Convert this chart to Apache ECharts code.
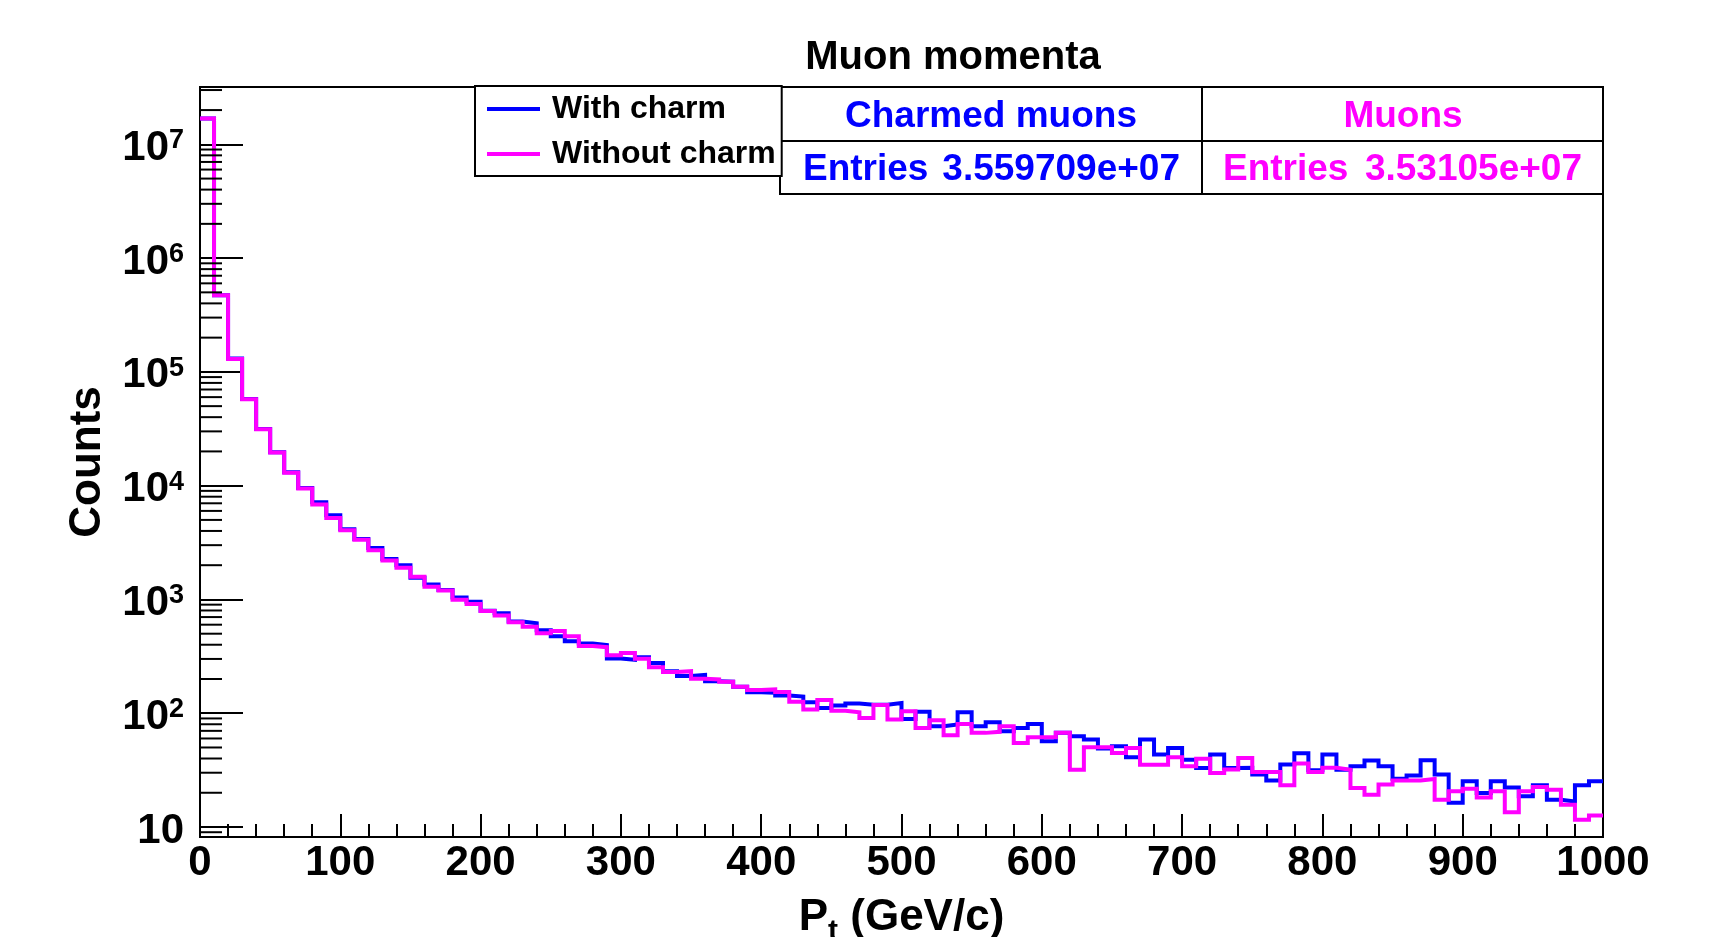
<!DOCTYPE html>
<html><head><meta charset="utf-8">
<script src="https://cdn.jsdelivr.net/npm/echarts@6/dist/echarts.min.js"></script>
<style>html,body{margin:0;padding:0;background:#fff}#c{width:1718px;height:937px}</style>
</head><body><div id="c"></div>
<script>
// ---- data (histogram, 100 bins of 10 GeV/c from 0 to 1000) ----
const binLow = 0;
const binWidth = 10;
const withCharm = [
  1.69e7, 4.72e5, 1.31e5, 5.78e4, 3.15e4, 1.97e4, 1.31e4, 9550, 7140, 5500,
  4150, 3390, 2830, 2270, 2000, 1550, 1350, 1210, 1040, 955,
  796, 757, 640, 618, 535, 476, 430, 410, 397, 303,
  295, 311, 276, 234, 212, 217, 191, 189, 171, 153,
  151, 143, 140, 125, 111, 117, 122, 119, 119, 123,
  89.1, 103, 76.9, 79.5, 102, 76.9, 83.4, 69.5, 74.3, 80.5,
  56.7, 67.2, 62.8, 58.7, 48.9, 51.3, 41.0, 58.7, 43.3, 49.5,
  39.1, 33.0, 43.3, 33.0, 33.1, 28.9, 25.6, 35.4, 44.5, 31.5,
  43.3, 31.9, 34.2, 38.4, 34.2, 26.6, 28.3, 38.6, 28.9, 16.3,
  25.2, 19.9, 25.2, 22.3, 18.6, 23.3, 17.4, 16.8, 23.3, 25.2
];
const withoutCharm = [
  1.69e7, 4.72e5, 1.30e5, 5.75e4, 3.13e4, 1.96e4, 1.30e4, 9450, 6840, 5200,
  4050, 3350, 2710, 2200, 1900, 1580, 1290, 1200, 996, 912,
  790, 724, 630, 575, 505, 527, 476, 389, 381, 324,
  338, 301, 254, 230, 234, 201, 198, 189, 171, 160,
  162, 154, 126, 108, 131, 105, 102, 91, 118, 87.9,
  104, 74.3, 86.8, 64.1, 80.5, 67.2, 68.6, 76.9, 54.8, 61.5,
  61.5, 67.2, 31.9, 50.2, 50.2, 44.8, 49.5, 35.3, 35.3, 41.0,
  34.2, 39.9, 29.9, 32.0, 40.5, 30.5, 30.5, 23.3, 36.1, 30.5,
  33.1, 31.9, 22.0, 19.2, 23.6, 25.6, 25.6, 26.4, 17.4, 20.6,
  21.7, 18.2, 20.6, 13.5, 20.6, 22.5, 21.3, 15.7, 11.6, 12.6
];
const seriesNames = ['With charm', 'Without charm'];
const seriesColors = ['#0000ff', '#ff00ff'];
const statTitles = ['Charmed muons', 'Muons'];
const statEntries = ['3.559709e+07', '3.53105e+07'];
const chartTitle = 'Muon momenta';
const xTitle = 'P{sub|t} (GeV/c)';
const yTitle = 'Counts';
const xRange = [0, 1000];
const xInterval = 100;
const yRange = [8.17, 3.19e7];

// ---- build ----
const FONT = '"Liberation Sans", Arial, Helvetica, sans-serif';
function toSteps(vals) {
  const pts = vals.map((v, i) => [binLow + i * binWidth, v]);
  pts.push([binLow + vals.length * binWidth, vals[vals.length - 1]]);
  return pts;
}
const minorY = [];
for (let e = 0; e <= 7; e++) {
  for (let m = 2; m <= 9; m++) {
    const v = m * Math.pow(10, e);
    if (v >= yRange[0] && v <= yRange[1]) minorY.push([0, v]);
  }
}
const chart = echarts.init(document.getElementById('c'), null, {renderer: 'canvas'});
const G = {left: 200, top: 87, width: 1403, height: 750};
const bold = (size, fill) => ({font: 'bold ' + size + 'px ' + FONT, fill: fill || '#000'});

const graphic = [
  {type: 'text', x: 953, y: 58, style: Object.assign({text: chartTitle, align: 'center', verticalAlign: 'middle'}, bold(40))},
  {type: 'rect', shape: {x: 780, y: 87, width: 422, height: 54}, style: {fill: '#fff', stroke: '#000', lineWidth: 2}},
  {type: 'rect', shape: {x: 780, y: 141, width: 422, height: 53}, style: {fill: '#fff', stroke: '#000', lineWidth: 2}},
  {type: 'rect', shape: {x: 1202, y: 87, width: 401, height: 54}, style: {fill: '#fff', stroke: '#000', lineWidth: 2}},
  {type: 'rect', shape: {x: 1202, y: 141, width: 401, height: 53}, style: {fill: '#fff', stroke: '#000', lineWidth: 2}},
  {type: 'text', x: 991, y: 117, style: Object.assign({text: statTitles[0], align: 'center', verticalAlign: 'middle'}, bold(37, seriesColors[0]))},
  {type: 'text', x: 803, y: 170, style: Object.assign({text: 'Entries', align: 'left', verticalAlign: 'middle'}, bold(37, seriesColors[0]))},
  {type: 'text', x: 1180, y: 170, style: Object.assign({text: statEntries[0], align: 'right', verticalAlign: 'middle'}, bold(37, seriesColors[0]))},
  {type: 'text', x: 1403, y: 117, style: Object.assign({text: statTitles[1], align: 'center', verticalAlign: 'middle'}, bold(37, seriesColors[1]))},
  {type: 'text', x: 1223, y: 170, style: Object.assign({text: 'Entries', align: 'left', verticalAlign: 'middle'}, bold(37, seriesColors[1]))},
  {type: 'text', x: 1582, y: 170, style: Object.assign({text: statEntries[1], align: 'right', verticalAlign: 'middle'}, bold(37, seriesColors[1]))}
];

const option = {
  animation: false,
  backgroundColor: '#fff',
  textStyle: {fontFamily: FONT},
  grid: Object.assign({show: true, borderColor: '#000', borderWidth: 2, backgroundColor: 'transparent', containLabel: false, outerBoundsMode: 'none'}, G),
  legend: {
    data: seriesNames, orient: 'vertical', left: 475, top: 86,
    padding: [7, 6, 6, 12], itemGap: 13, itemWidth: 53, itemHeight: 4, icon: 'rect',
    backgroundColor: '#fff', borderColor: '#000', borderWidth: 2, selectedMode: false,
    textStyle: {fontSize: 32, fontWeight: 'bold', fontFamily: FONT, color: '#000', lineHeight: 32, padding: [0, 0, 0, 7]}
  },
  xAxis: {
    type: 'value', min: xRange[0], max: xRange[1], interval: xInterval, position: 'bottom',
    axisLine: {show: true, onZero: false, lineStyle: {color: '#000', width: 2}},
    axisTick: {show: true, inside: true, length: 23, lineStyle: {color: '#000', width: 2}},
    minorTick: {show: true, splitNumber: 5, length: 13, lineStyle: {color: '#000', width: 2}},
    splitLine: {show: false}, minorSplitLine: {show: false},
    axisLabel: {fontSize: 42, fontWeight: 'bold', fontFamily: FONT, color: '#000', margin: 5,
      formatter: function (v) { return String(v); }},
    name: xTitle, nameLocation: 'middle', nameGap: 52,
    nameTextStyle: {fontSize: 44, fontWeight: 'bold', fontFamily: FONT, color: '#000',
      rich: {sub: {fontSize: 30, fontWeight: 'bold', fontFamily: FONT, color: '#000', padding: [28, 0, 0, 0]}}}
  },
  yAxis: {
    type: 'log', logBase: 10, min: yRange[0], max: yRange[1], splitNumber: 7,
    axisLine: {show: true, lineStyle: {color: '#000', width: 2}},
    axisTick: {show: true, inside: true, length: 43, lineStyle: {color: '#000', width: 2}},
    splitLine: {show: false},
    axisLabel: {
      fontSize: 42, fontWeight: 'bold', fontFamily: FONT, color: '#000', margin: 16, padding: [8, 0, 0, 0],
      formatter: function (v) {
        const e = Math.log10(v), r = Math.round(e);
        if (Math.abs(e - r) > 1e-6) return '';
        return r === 1 ? '10' : '10{sup|' + r + '}';
      },
      rich: {sup: {fontSize: 27, fontWeight: 'bold', fontFamily: FONT, color: '#000', verticalAlign: 'top'}}
    },
    name: yTitle, nameLocation: 'middle', nameGap: 90,
    nameTextStyle: {fontSize: 44, fontWeight: 'bold', fontFamily: FONT, color: '#000'}
  },
  series: [
    {type: 'line', name: seriesNames[0], data: toSteps(withCharm), step: 'end', symbol: 'none', showSymbol: false,
     color: seriesColors[0], itemStyle: {color: seriesColors[0]}, lineStyle: {width: 4, color: seriesColors[0], join: 'miter', cap: 'butt'}, z: 2},
    {type: 'line', name: seriesNames[1], data: toSteps(withoutCharm), step: 'end', symbol: 'none', showSymbol: false,
     color: seriesColors[1], itemStyle: {color: seriesColors[1]}, lineStyle: {width: 4, color: seriesColors[1], join: 'miter', cap: 'butt'}, z: 3},
    {type: 'custom', name: 'minor-y-ticks', data: minorY, silent: true, clip: false, z: 4,
     renderItem: function (params, api) {
       const p = api.coord([api.value(0), api.value(1)]);
       return {type: 'line', shape: {x1: p[0], y1: p[1], x2: p[0] + 22, y2: p[1]}, style: {stroke: '#000', lineWidth: 2}};
     }}
  ],
  graphic: graphic
};
chart.setOption(option);
</script></body></html>
